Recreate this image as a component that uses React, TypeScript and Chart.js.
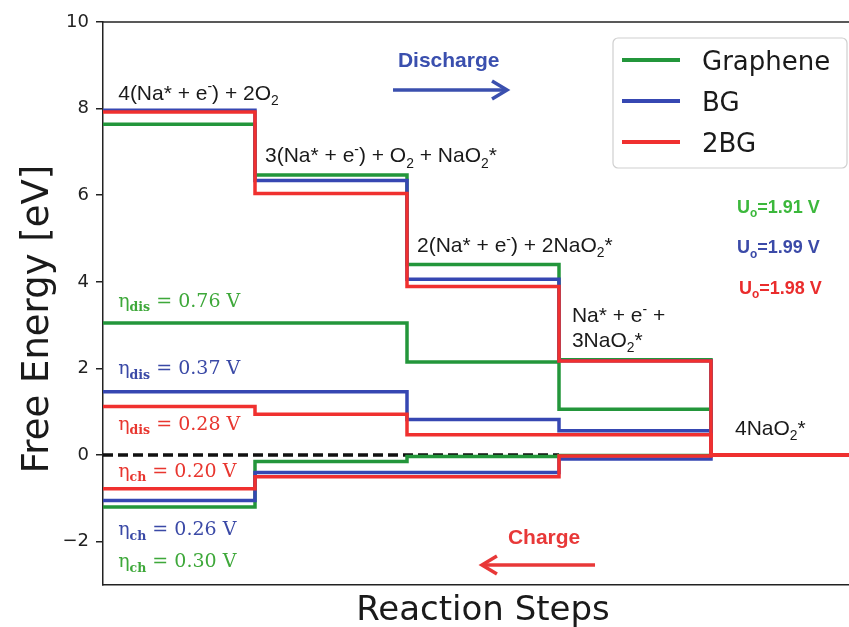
import React, { useEffect, useRef } from "react";
import { Chart, registerables } from "chart.js";

Chart.register(...registerables);

// ---------- data ----------
const stepEdges = [0, 1, 2, 3, 4, 5];
const seriesNames = ["Graphene", "BG", "2BG"];
// levels at U = 0 (discharge diagram)
const grapheneU0 = [7.64, 6.47, 4.4, 2.2, 0];
const bgU0 = [7.96, 6.34, 4.06, 2.18, 0];
const twoBgU0 = [7.92, 6.04, 3.89, 2.17, 0];
// levels at the limiting discharge potential
const grapheneDis = [3.05, 3.05, 2.15, 1.06, 0];
const bgDis = [1.46, 1.46, 0.82, 0.56, 0];
const twoBgDis = [1.12, 0.94, 0.47, 0.47, 0];
// levels at the limiting charge potential
const grapheneCh = [-1.2, -0.15, -0.03, -0.01, 0];
const bgCh = [-1.05, -0.4, -0.4, -0.09, 0];
const twoBgCh = [-0.78, -0.5, -0.5, -0.02, 0];
// reference zero line (steps 0..3)
const zeroLineX = [0, 3];
const zeroLineY = [0, 0];

const yTicks = [-2, 0, 2, 4, 6, 8, 10];
const uoLabels = ["1.91 V", "1.99 V", "1.98 V"];
const etaDisLabels = ["0.76 V", "0.37 V", "0.28 V"];
const etaChLabels = ["0.30 V", "0.26 V", "0.20 V"];

// ---------- styles ----------
const lineColors = ["#23963b", "#3647b2", "#f0302f"];
const etaColors = ["#3ea83a", "#3a49a6", "#e8362f"];
const uoColors = ["#3cb83c", "#3b4aa8", "#ea2c2c"];
const SANS = "'Liberation Sans', Arial, sans-serif";
const DJ = "'DejaVu Sans', sans-serif";
const SERIF = "'DejaVu Serif', serif";

type Seg = [string, "n" | "sup" | "sub"];

function stepPoints(levels: number[]) {
  const pts = levels.map((v, i) => ({ x: stepEdges[i], y: v }));
  pts.push({ x: stepEdges[levels.length], y: levels[levels.length - 1] });
  return pts;
}

function drawRich(
  ctx: CanvasRenderingContext2D,
  segs: Seg[],
  x: number,
  y: number,
  size: number,
  family: string,
  weight: string,
  color: string,
  subWeight?: string
) {
  let cx = x;
  ctx.fillStyle = color;
  ctx.textAlign = "left";
  ctx.textBaseline = "alphabetic";
  for (const [t, m] of segs) {
    const s = m === "n" ? size : size * 0.66;
    const w = m === "sub" && subWeight ? subWeight : weight;
    ctx.font = `${w} ${s}px ${family}`;
    const dy = m === "sup" ? -size * 0.4 : m === "sub" ? size * 0.25 : 0;
    ctx.fillText(t, cx, y + dy);
    cx += ctx.measureText(t).width;
  }
}

function drawArrow(ctx: CanvasRenderingContext2D, x1: number, x2: number, y: number, color: string) {
  const dir = x2 > x1 ? 1 : -1;
  ctx.save();
  ctx.strokeStyle = color;
  ctx.lineWidth = 3.5;
  ctx.lineCap = "butt";
  ctx.lineJoin = "miter";
  ctx.beginPath();
  ctx.moveTo(x1, y);
  ctx.lineTo(x2 - dir * 1.5, y);
  ctx.stroke();
  ctx.beginPath();
  ctx.moveTo(x2 - dir * 15, y - 9);
  ctx.lineTo(x2, y);
  ctx.lineTo(x2 - dir * 15, y + 9);
  ctx.stroke();
  ctx.restore();
}

const annotationPlugin = {
  id: "annotations",
  afterDraw(chart: any) {
    const ctx: CanvasRenderingContext2D = chart.ctx;
    const xs = chart.scales.x;
    const ys = chart.scales.y;
    const ca = chart.chartArea;
    const X = (v: number) => xs.getPixelForValue(v);
    const Y = (v: number) => ys.getPixelForValue(v);

    ctx.save();
    // top frame line
    ctx.strokeStyle = "#222";
    ctx.lineWidth = 1.5;
    ctx.beginPath();
    ctx.moveTo(ca.left, ca.top);
    ctx.lineTo(ca.right, ca.top);
    ctx.stroke();

    // reaction state labels
    const black = "#1a1a1a";
    const fs = 21;
    drawRich(ctx, [["4(Na* + e", "n"], ["-", "sup"], [") + 2O", "n"], ["2", "sub"]], X(0.1), Y(8.21), fs, SANS, "normal", black);
    drawRich(ctx, [["3(Na* + e", "n"], ["-", "sup"], [") + O", "n"], ["2", "sub"], [" + NaO", "n"], ["2", "sub"], ["*", "n"]], X(1.066), Y(6.76), fs, SANS, "normal", black);
    drawRich(ctx, [["2(Na* + e", "n"], ["-", "sup"], [") + 2NaO", "n"], ["2", "sub"], ["*", "n"]], X(2.066), Y(4.69), fs, SANS, "normal", black);
    drawRich(ctx, [["Na* + e", "n"], ["-", "sup"], [" +", "n"]], X(3.085), Y(3.07), fs, SANS, "normal", black);
    drawRich(ctx, [["3NaO", "n"], ["2", "sub"], ["*", "n"]], X(3.085), Y(2.5), fs, SANS, "normal", black);
    drawRich(ctx, [["4NaO", "n"], ["2", "sub"], ["*", "n"]], X(4.158), Y(0.47), fs, SANS, "normal", black);

    // discharge / charge
    drawRich(ctx, [["Discharge", "n"]], X(1.94), Y(8.97), 21, SANS, "bold", "#3a4fae");
    drawArrow(ctx, X(1.908), X(2.658), Y(8.43), "#3a4fae");
    drawRich(ctx, [["Charge", "n"]], X(2.664), Y(-2.06), 21, SANS, "bold", "#e83838");
    drawArrow(ctx, X(3.237), X(2.493), Y(-2.54), "#e83838");

    // U_o labels
    const uoPos = [
      [4.171, 5.6],
      [4.171, 4.66],
      [4.184, 3.72],
    ];
    uoLabels.forEach((t, i) => {
      drawRich(ctx, [["U", "n"], ["o", "sub"], ["=" + t, "n"]], X(uoPos[i][0]), Y(uoPos[i][1]), 18, SANS, "bold", uoColors[i]);
    });

    // eta labels
    const disY = [3.43, 1.87, 0.59];
    etaDisLabels.forEach((t, i) => {
      drawRich(ctx, [["η", "n"], ["dis", "sub"], [" = " + t, "n"]], X(0.1), Y(disY[i]), 19, SERIF, "normal", etaColors[i], "bold");
    });
    const chY = [-2.58, -1.85, -0.5];
    etaChLabels.forEach((t, i) => {
      drawRich(ctx, [["η", "n"], ["ch", "sub"], [" = " + t, "n"]], X(0.1), Y(chY[i]), 19, SERIF, "normal", etaColors[i], "bold");
    });

    // axis titles
    ctx.fillStyle = "#1a1a1a";
    ctx.font = `normal 34px ${DJ}`;
    ctx.textAlign = "center";
    ctx.textBaseline = "alphabetic";
    ctx.fillText("Reaction Steps", (ca.left + ca.right) / 2, 620);
    ctx.save();
    ctx.translate(48, 319);
    ctx.rotate(-Math.PI / 2);
    ctx.font = `normal 37px ${DJ}`;
    ctx.fillText("Free Energy [eV]", 0, 0);
    ctx.restore();

    // legend
    const bw = 234;
    const bh = 130;
    const bx = ca.right - 16 - bw;
    const by = ca.top + 16;
    ctx.beginPath();
    (ctx as any).roundRect(bx, by, bw, bh, 5);
    ctx.fillStyle = "rgba(255,255,255,0.85)";
    ctx.fill();
    ctx.strokeStyle = "#cfcfcf";
    ctx.lineWidth = 1.2;
    ctx.stroke();
    seriesNames.forEach((name, i) => {
      const ry = by + 22 + i * 41;
      ctx.strokeStyle = lineColors[i];
      ctx.lineWidth = 4;
      ctx.beginPath();
      ctx.moveTo(bx + 9, ry);
      ctx.lineTo(bx + 67, ry);
      ctx.stroke();
      ctx.fillStyle = "#1a1a1a";
      ctx.font = `normal 26px ${DJ}`;
      ctx.textAlign = "left";
      ctx.textBaseline = "alphabetic";
      ctx.fillText(name, bx + 89, ry + 9.5);
    });
    ctx.restore();
  },
};

export default function App() {
  const ref = useRef<HTMLCanvasElement | null>(null);

  useEffect(() => {
    if (!ref.current) return;
    const groups = [
      { levels: [grapheneU0, grapheneDis, grapheneCh], color: lineColors[0], order: 3 },
      { levels: [bgU0, bgDis, bgCh], color: lineColors[1], order: 2 },
      { levels: [twoBgU0, twoBgDis, twoBgCh], color: lineColors[2], order: 1 },
    ];
    const datasets: any[] = [];
    groups.forEach((g, gi) => {
      g.levels.forEach((lv, li) => {
        datasets.push({
          label: seriesNames[gi] + "-" + li,
          data: stepPoints(lv),
          borderColor: g.color,
          borderWidth: 3.5,
          pointRadius: 0,
          fill: false,
          stepped: "before",
          order: g.order,
          borderCapStyle: "butt",
          borderJoinStyle: "miter",
        });
      });
    });
    datasets.push({
      label: "zero",
      data: zeroLineX.map((x, i) => ({ x, y: zeroLineY[i] })),
      borderColor: "#111",
      borderWidth: 3.5,
      borderDash: [10, 5],
      pointRadius: 0,
      fill: false,
      order: 4,
    });

    const chart = new Chart(ref.current, {
      type: "line",
      data: { datasets },
      options: {
        responsive: false,
        animation: false,
        devicePixelRatio: 1,
        layout: { padding: { top: 22, right: 17, left: 0, bottom: 0 } },
        plugins: { legend: { display: false }, tooltip: { enabled: false } },
        scales: {
          x: {
            type: "linear",
            min: 0,
            max: 5,
            grid: { display: false },
            border: { display: true, color: "#222", width: 1.5 },
            ticks: { display: false },
            afterFit: (s: any) => {
              s.height = 42;
            },
          },
          y: {
            min: -3,
            max: 10,
            afterBuildTicks: (s: any) => {
              s.ticks = yTicks.map((v) => ({ value: v }));
            },
            ticks: {
              font: { family: "'DejaVu Sans', sans-serif", size: 18 },
              color: "#222",
              padding: 7,
              callback: (v: any) => String(v).replace("-", "\u2212"),
            },
            grid: {
              display: true,
              drawOnChartArea: false,
              drawTicks: true,
              tickLength: 7,
              color: "#222",
              lineWidth: 1.5,
            },
            border: { display: true, color: "#222", width: 1.5 },
            afterFit: (s: any) => {
              s.width = 103;
            },
          },
        },
      } as any,
      plugins: [annotationPlugin],
    });
    return () => chart.destroy();
  }, []);

  return (
    <div
      style={{
        position: "fixed",
        left: 0,
        top: 0,
        width: 849,
        height: 627,
        overflow: "hidden",
        background: "#fff",
      }}
    >
      <canvas ref={ref} width={880} height={627} style={{ display: "block" }} />
    </div>
  );
}
